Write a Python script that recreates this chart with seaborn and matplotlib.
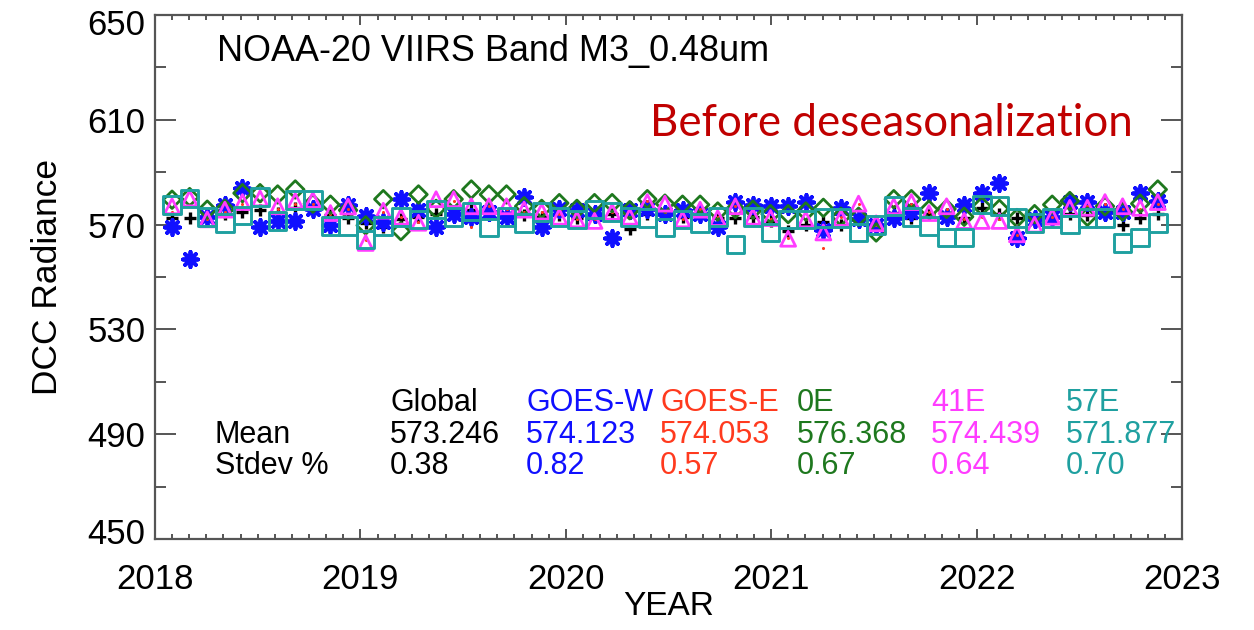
import numpy as np
import matplotlib
matplotlib.use("Agg")
import matplotlib.pyplot as plt
from matplotlib.ticker import MultipleLocator, FixedLocator
from matplotlib.transforms import ScaledTranslation
import seaborn as sns

# ---------------- data ----------------
month_index = np.arange(57)
years = 2018.083 + month_index * 0.0857   # monthly sample times (decimal year)

global_vals = [572.7, 572.7, 573.5, 574.0, 575.0, 575.7, 574.5, 576.3, 575.5, 573.5,
               572.7, 570.5, 568.9, 572.0, 572.8, 574.0, 574.5, 575.7, 574.5, 574.0,
               573.5, 573.0, 573.5, 572.5, 573.0, 574.0, 568.3, 574.0, 573.5, 573.0,
               574.0, 572.5, 572.7, 573.0, 571.5, 567.7, 570.0, 571.0, 570.0, 572.0,
               571.0, 574.5, 572.5, 574.0, 574.0, 572.5, 576.3, 574.0, 572.5, 571.0,
               573.0, 574.0, 573.5, 574.0, 570.0, 572.5, 574.0]
goes_w = [568.9, 557.0, 573.0, 577.6, 584.0, 568.9, 571.3, 571.3, 576.0, 570.0,
          577.6, 573.3, 571.0, 579.7, 575.7, 568.9, 574.0, 573.0, 575.0, 573.0,
          580.4, 568.9, 576.0, 575.7, 574.0, 565.0, 575.7, 576.0, 574.0, 575.5,
          574.0, 568.9, 578.6, 577.6, 577.0, 577.0, 578.6, 568.0, 576.4, 572.0,
          570.0, 572.5, 575.0, 582.2, 573.0, 577.6, 582.2, 586.0, 565.0, 572.0,
          573.0, 578.6, 578.6, 575.0, 575.0, 582.2, 579.0]
goes_e = [575.0, 578.0, 572.0, 575.0, 578.0, 579.0, 576.0, 578.0, 578.0, 574.0,
          576.0, 564.0, 575.0, 573.0, 571.0, 579.0, 579.0, 569.0, 577.0, 576.0,
          575.0, 575.0, 574.0, 572.0, 572.0, 575.0, 573.0, 579.0, 575.0, 572.0,
          576.0, 573.0, 577.0, 573.0, 572.0, 565.0, 572.0, 561.0, 573.0, 578.0,
          570.0, 577.0, 578.0, 575.0, 576.0, 572.0, 573.0, 572.0, 566.0, 571.0,
          573.0, 576.0, 577.0, 578.0, 576.0, 576.0, 578.0]
e0 = [579.5, 580.5, 575.7, 576.0, 582.0, 582.0, 581.5, 583.4, 578.0, 577.6,
      575.5, 569.7, 579.7, 567.5, 581.5, 576.0, 579.7, 583.4, 581.5, 581.5,
      577.0, 576.0, 578.2, 576.0, 578.2, 578.2, 575.5, 579.7, 578.0, 577.6,
      577.6, 575.0, 576.0, 575.7, 574.0, 574.0, 575.0, 576.4, 573.0, 573.0,
      567.0, 579.7, 579.7, 575.7, 576.0, 573.0, 577.0, 576.0, 572.5, 574.0,
      577.6, 579.0, 573.0, 577.0, 575.0, 578.0, 583.4]
e41 = [577.0, 580.0, 572.0, 575.7, 578.6, 580.0, 577.0, 579.0, 579.4, 574.4,
       576.9, 563.0, 575.3, 573.0, 570.7, 579.7, 579.7, 577.0, 577.0, 577.0,
       575.7, 575.0, 573.0, 572.0, 571.4, 574.9, 573.0, 578.6, 578.0, 572.0,
       575.7, 572.5, 577.0, 573.0, 572.5, 564.6, 572.0, 567.0, 572.5, 578.0,
       570.5, 577.0, 578.6, 574.4, 577.0, 571.4, 571.4, 571.4, 566.3, 570.0,
       573.0, 576.4, 576.4, 578.6, 577.0, 576.4, 578.6]
e57 = [577.5, 580.0, 573.0, 570.7, 573.5, 580.6, 571.3, 579.4, 579.4, 569.5,
       569.5, 564.3, 569.5, 573.0, 572.0, 575.7, 573.0, 575.0, 568.9, 573.0,
       570.7, 574.9, 573.0, 572.0, 575.7, 574.9, 573.0, 572.5, 568.9, 572.0,
       570.7, 573.0, 562.4, 573.0, 567.0, 572.0, 572.0, 572.5, 572.5, 567.0,
       569.8, 577.0, 573.0, 569.5, 565.0, 565.0, 577.6, 577.0, 572.5, 570.7,
       572.5, 570.0, 572.5, 572.5, 563.0, 565.0, 570.7]

series_names = ["Global", "GOES-W", "GOES-E", "0E", "41E", "57E"]
series_vals = [global_vals, goes_w, goes_e, e0, e41, e57]
means = ["573.246", "574.123", "574.053", "576.368", "574.439", "571.877"]
stdevs = ["0.38", "0.82", "0.57", "0.67", "0.64", "0.70"]

y_major_ticks = [450, 490, 530, 570, 610, 650]
y_minor_ticks = [470, 510, 550, 590, 630]
x_major_ticks = [2018, 2019, 2020, 2021, 2022, 2023]

colors = ["#000000", "#1010FF", "#FF3A1E", "#1E781E", "#FF3CFF", "#1FA0A0"]

# ---------------- style ----------------
sns.set_theme(style="ticks")
plt.rcParams["font.family"] = ["Liberation Sans", "DejaVu Sans"]
plt.rcParams["text.color"] = "black"
plt.rcParams["axes.labelcolor"] = "black"

W, H = 1254, 630
fig = plt.figure(figsize=(W / 100, H / 100), dpi=100)
ax = fig.add_axes([155 / W, 1 - 539 / H, (1182 - 155) / W, (539 - 15) / H])

marker_specs = [
    dict(marker="+", s=75, linewidth=2.4, color=colors[0]),
    dict(marker=(8, 2, 0), s=120, linewidth=2.8, color=colors[1]),
    dict(marker="o", s=5, linewidth=0, color=colors[2]),
    dict(marker="D", s=80, linewidth=2.0, facecolors="none", edgecolor=colors[3]),
    dict(marker="^", s=115, linewidth=2.0, facecolors="none", edgecolor=colors[4]),
    dict(marker="s", s=160, linewidth=2.1, facecolors="none", edgecolor=colors[5]),
]

for vals, spec in zip(series_vals, marker_specs):
    spec = dict(spec)
    if "facecolors" not in spec:
        spec["edgecolor"] = spec["color"]
    sns.scatterplot(x=years, y=vals, ax=ax, legend=False, zorder=3, **spec)

ax.set_xlim(2018, 2023)
ax.set_ylim(450, 650)
ax.xaxis.set_major_locator(FixedLocator(x_major_ticks))
ax.xaxis.set_minor_locator(MultipleLocator(1 / 12))
ax.yaxis.set_major_locator(FixedLocator(y_major_ticks))
ax.yaxis.set_minor_locator(FixedLocator(y_minor_ticks))
ax.xaxis.set_major_formatter(matplotlib.ticker.FuncFormatter(lambda v, p: f"{int(round(v))}"))
ax.yaxis.set_major_formatter(matplotlib.ticker.FuncFormatter(lambda v, p: f"{int(round(v))}"))

spine_col = "#555555"
for s in ax.spines.values():
    s.set_color(spine_col)
    s.set_linewidth(1.6)

ax.tick_params(axis="both", which="both", direction="in", top=True, right=True,
               color=spine_col, width=1.4, labelsize=25, labelcolor="black")
ax.tick_params(axis="x", which="major", length=7, pad=17)
ax.tick_params(axis="x", which="minor", length=3.5)
ax.tick_params(axis="y", which="major", length=15, pad=7)
ax.tick_params(axis="y", which="minor", length=8)

ax.set_xlabel("YEAR", fontsize=24, labelpad=-3, color="black")
ax.set_ylabel("DCC Radiance", fontsize=25.5, labelpad=17, color="black")

# nudge the extreme y tick labels inward, as in the reference
fig.canvas.draw()
ylabels = ax.get_yticklabels()
ylabels[0].set_transform(ylabels[0].get_transform() + ScaledTranslation(0, 8 / 100, fig.dpi_scale_trans))
ylabels[-1].set_transform(ylabels[-1].get_transform() + ScaledTranslation(0, -7 / 100, fig.dpi_scale_trans))

# title inside plot
fig.text(217 / W, 1 - 52 / H, "NOAA-20 VIIRS Band M3_0.48um", fontsize=25.9,
         ha="left", va="center", color="black")
fig.text(891 / W, 1 - 123 / H, "Before deseasonalization", fontsize=31.6,
         ha="center", va="center", color="#C00000", family=["Lato", "DejaVu Sans"])

# stats table
col_x = [390, 526, 660, 797, 931, 1066]
row_y = [403, 435, 466]
fs_tab = 22
fig.text(215 / W, 1 - row_y[1] / H, "Mean", fontsize=fs_tab, ha="left", va="center", color="black")
fig.text(215 / W, 1 - row_y[2] / H, "Stdev %", fontsize=fs_tab, ha="left", va="center", color="black")
for cx, name, m, sd, c in zip(col_x, series_names, means, stdevs, colors):
    fig.text(cx / W, 1 - row_y[0] / H, name, fontsize=fs_tab, ha="left", va="center", color=c)
    fig.text(cx / W, 1 - row_y[1] / H, m, fontsize=fs_tab, ha="left", va="center", color=c)
    fig.text(cx / W, 1 - row_y[2] / H, sd, fontsize=fs_tab, ha="left", va="center", color=c)

fig.savefig("out.png", dpi=100, facecolor="white")
